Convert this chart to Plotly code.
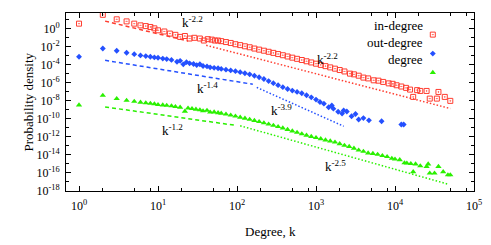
import plotly.graph_objects as go

# ---------------- data (log10 values) ----------------
in_logk = [0.0, 0.301, 0.477, 0.602, 0.699, 0.778, 0.845, 0.903, 0.954, 1.0, 1.08, 1.15, 1.22, 1.28,
           1.34, 1.40, 1.46, 1.53, 1.58, 1.63, 1.68, 1.72, 1.76,
           1.80, 1.86, 1.92, 1.98, 2.04, 2.10, 2.16, 2.22, 2.28, 2.34, 2.40, 2.46, 2.52, 2.58, 2.64,
           2.70, 2.76, 2.82, 2.88, 2.94, 3.00, 3.06, 3.12, 3.18, 3.24,
           3.30, 3.36, 3.43, 3.48, 3.54, 3.60, 3.66, 3.73, 3.79, 3.85, 3.92, 3.97, 4.02, 4.08, 4.14,
           4.19, 4.23, 4.28, 4.32, 4.40, 4.44, 4.53, 4.55, 4.63, 4.70]
in_logp = [0.52, 1.50, 1.00, 0.77, 0.52, 0.33, 0.25, 0.15, 0.00, -0.22, -0.35, -0.58, -0.72, -0.95,
           -0.85, -1.13, -1.05, -1.13, -1.35, -1.20, -1.25, -1.35, -1.35,
           -1.42, -1.52, -1.62, -1.76, -1.86, -1.99, -2.10, -2.24, -2.36, -2.48, -2.60, -2.72, -2.85, -2.98, -3.12,
           -3.25, -3.38, -3.51, -3.65, -3.78, -3.92, -4.05, -4.19, -4.33, -4.47,
           -4.62, -4.78, -5.02, -5.10, -5.25, -5.46, -5.55, -5.76, -5.80, -5.94, -6.10, -6.15, -6.31, -6.45, -6.60,
           -6.79, -7.60, -6.85, -6.94, -6.94, -7.79, -7.79, -7.05, -7.60, -8.04]

out_logk = [0.0, 0.301, 0.477, 0.602, 0.699, 0.778, 0.845, 0.903, 0.954, 1.0, 1.06, 1.11, 1.17, 1.24,
            1.28, 1.32, 1.36, 1.40, 1.45, 1.49, 1.53, 1.57, 1.62, 1.66, 1.71, 1.76,
            1.80, 1.86, 1.92, 1.98, 2.04, 2.10, 2.16, 2.22, 2.28, 2.34, 2.40, 2.46, 2.52, 2.58, 2.64,
            2.70, 2.76, 2.82, 2.88, 2.94, 3.00, 3.05, 3.10, 3.16, 3.20, 3.22, 3.28, 3.33, 3.35, 3.39,
            3.45, 3.50, 3.54, 3.60, 3.67, 3.83, 4.08, 4.11]
out_logp = [-3.15, -2.23, -2.49, -2.71, -2.86, -3.00, -3.08, -3.15, -3.22, -3.26, -3.35, -3.41, -3.50, -3.70,
            -3.60, -3.99, -3.75, -3.88, -3.95, -4.07, -3.98, -4.18, -4.22, -4.32, -4.38, -4.43,
            -4.50, -4.58, -4.66, -4.75, -4.86, -4.98, -5.10, -5.25, -5.42, -5.62, -5.85, -6.08, -6.30, -6.52, -6.72,
            -6.90, -7.05, -7.20, -7.42, -7.65, -7.90, -8.16, -8.35, -8.75, -8.55, -8.90, -9.25, -9.45, -9.10, -9.22,
            -9.75, -9.50, -10.10, -9.95, -10.20, -10.30, -10.66, -10.66]

deg_logk = [0.0, 0.301, 0.477, 0.602, 0.699, 0.778, 0.845, 0.903, 0.954, 1.0, 1.06, 1.11, 1.17, 1.22,
            1.28, 1.34, 1.38, 1.43, 1.48, 1.53, 1.57, 1.62, 1.66, 1.71, 1.76,
            1.80, 1.86, 1.92, 1.98, 2.04, 2.10, 2.16, 2.22, 2.28, 2.34, 2.40, 2.46, 2.52, 2.58, 2.64,
            2.70, 2.76, 2.82, 2.88, 2.94, 3.00, 3.06, 3.12, 3.18, 3.24,
            3.30, 3.36, 3.42, 3.48, 3.54, 3.60, 3.66, 3.72, 3.78, 3.84, 3.90, 3.96, 4.00, 4.06, 4.12,
            4.15, 4.20, 4.23, 4.26, 4.32, 4.40, 4.42, 4.44, 4.50, 4.55, 4.61, 4.67, 4.70]
deg_logp = [-8.50, -7.44, -7.80, -7.99, -8.10, -8.20, -8.27, -8.33, -8.38, -8.46, -8.50, -8.55, -8.60, -8.68,
            -8.75, -9.20, -8.85, -8.90, -8.98, -9.05, -9.15, -9.10, -9.30, -9.28, -9.37,
            -9.42, -9.52, -9.62, -9.74, -9.86, -9.97, -10.10, -10.22, -10.35, -10.48, -10.62, -10.76, -10.90, -11.06, -11.22,
            -11.38, -11.54, -11.70, -11.85, -12.00, -12.12, -12.25, -12.38, -12.50, -12.62,
            -12.80, -12.98, -13.10, -13.30, -13.50, -13.65, -13.82, -13.88, -13.98, -14.12, -14.22, -14.42, -14.50, -14.58, -14.92,
            -14.95, -15.00, -15.90, -15.05, -15.25, -15.32, -15.05, -16.05, -16.05, -15.32, -15.90, -16.25, -16.25]

# fitted power laws (log10 endpoints)
fit_in1_logk, fit_in1_logp = [0.33, 1.38], [0.80, -1.40]
fit_in2_logk, fit_in2_logp = [1.61, 4.70], [-1.88, -8.89]
fit_out1_logk, fit_out1_logp = [0.33, 2.20], [-3.55, -6.20]
fit_out2_logk, fit_out2_logp = [2.25, 3.35], [-6.55, -10.85]
fit_deg1_logk, fit_deg1_logp = [0.33, 1.97], [-8.71, -10.74]
fit_deg2_logk, fit_deg2_logp = [2.04, 4.67], [-10.80, -17.27]

series_names = ["in-degree", "out-degree", "degree"]
exponent_labels = ["-2.2", "-2.2", "-1.4", "-3.9", "-1.2", "-2.5"]

x_tick_exp = [0, 1, 2, 3, 4, 5]
y_tick_exp = [0, -2, -4, -6, -8, -10, -12, -14, -16, -18]
y_minor_exp = [1, -1, -3, -5, -7, -9, -11, -13, -15, -17]
x_minor_mult = [2, 5, 8]

RED = "#ff3d30"
BLUE = "#2450ff"
GREEN = "#2af000"
FONT = "Liberation Serif, Times New Roman, DejaVu Serif, serif"

# the page body has an 8px default margin, so the figure is shrunk by 8px
PAGE_OFF = 8


def pw(v):
    return [10 ** a for a in v]


fig = go.Figure()

# fit lines
for lk, lp, col, dash in [
    (fit_in1_logk, fit_in1_logp, RED, "4px,3px"),
    (fit_in2_logk, fit_in2_logp, RED, "1.5px,2px"),
    (fit_out1_logk, fit_out1_logp, BLUE, "4px,3px"),
    (fit_out2_logk, fit_out2_logp, BLUE, "1.5px,2px"),
    (fit_deg1_logk, fit_deg1_logp, GREEN, "4px,3px"),
    (fit_deg2_logk, fit_deg2_logp, GREEN, "1.5px,2px"),
]:
    fig.add_trace(go.Scatter(x=pw(lk), y=pw(lp), mode="lines", showlegend=False,
                             line=dict(color=col, width=1.5, dash=dash), hoverinfo="skip"))

# data
fig.add_trace(go.Scatter(x=pw(in_logk), y=pw(in_logp), mode="markers", name=" ",
                         marker=dict(symbol="square-open-dot", size=5, color=RED,
                                     line=dict(color=RED, width=1))))
fig.add_trace(go.Scatter(x=pw(out_logk), y=pw(out_logp), mode="markers", name=" ",
                         marker=dict(symbol="diamond", size=4.5, color=BLUE, line=dict(width=0))))
fig.add_trace(go.Scatter(x=pw(deg_logk), y=pw(deg_logp), mode="markers", name=" ",
                         marker=dict(symbol="triangle-up", size=5.5, color=GREEN, line=dict(width=0))))

axis_common = dict(showline=True, linecolor="black", linewidth=1, mirror="allticks",
                   ticks="inside", ticklen=5, tickcolor="black", showgrid=False, zeroline=False,
                   automargin=False,
                   tickfont=dict(family=FONT, size=12, color="black"))

fig.update_xaxes(type="log", range=[-0.165, 5],
                 tickvals=[10 ** e for e in x_tick_exp],
                 ticktext=[f"10<sup>{e}</sup>" for e in x_tick_exp],
                 minor=dict(tickvals=[m * 10 ** e for e in x_tick_exp[:-1] for m in x_minor_mult],
                            ticks="inside", ticklen=3, tickcolor="black"),
                 ticklabelstandoff=4,
                 **axis_common)
fig.update_yaxes(type="log", range=[-18.03, 1.7],
                 tickvals=[10 ** e for e in y_tick_exp],
                 ticktext=[f"10<sup>{e}</sup>" for e in y_tick_exp],
                 minor=dict(tickvals=[10 ** e for e in y_minor_exp],
                            ticks="inside", ticklen=3, tickcolor="black"),
                 ticklabelstandoff=3,
                 **axis_common)

annots = []
# power-law labels (data coords, log10 for annotations on log axes)
label_pos = [(1.44, 0.75), (3.15, -3.35), (1.62, -6.6), (2.56, -9.1), (1.18, -11.3), (3.25, -15.3)]
for (lx, ly), e in zip(label_pos, exponent_labels):
    annots.append(dict(x=lx, y=ly, xref="x", yref="y", text=f"k<sup>{e}</sup>", showarrow=False,
                       font=dict(family=FONT, size=13, color="black")))
# legend text (right aligned)
for name, yy in zip(series_names, [0.927, 0.834, 0.741]):
    annots.append(dict(x=0.88, y=yy, xref="paper", yref="paper", text=name, showarrow=False,
                       xanchor="right", yanchor="middle", font=dict(family=FONT, size=13, color="black")))
# axis titles
annots.append(dict(x=0, y=0.5, xref="paper", yref="paper", text="Probability density", textangle=-90,
                   showarrow=False, xshift=-48, font=dict(family=FONT, size=13, color="black")))
annots.append(dict(x=0.5, y=0, xref="paper", yref="paper", text="Degree, k", showarrow=False,
                   yshift=-40, yanchor="middle", font=dict(family=FONT, size=13, color="black")))

fig.update_layout(
    width=491 - PAGE_OFF, height=245 - PAGE_OFF,
    margin=dict(l=66 - PAGE_OFF, r=17, t=13 - PAGE_OFF, b=54, autoexpand=False),
    paper_bgcolor="white", plot_bgcolor="white",
    annotations=annots,
    showlegend=True,
    legend=dict(x=0.85, y=0.96, xanchor="left", yanchor="top", bgcolor="rgba(0,0,0,0)",
                font=dict(family=FONT, size=10.5), itemwidth=30, tracegroupgap=0),
)

fig.write_html("out.html")
